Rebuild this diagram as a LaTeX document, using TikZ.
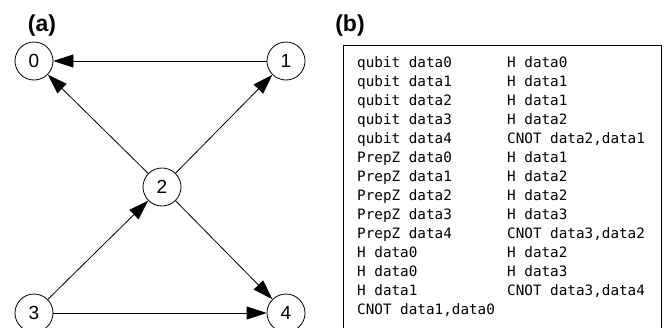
\documentclass[tikz,border=0pt]{standalone}
\usepackage{fontspec}
\setmainfont{Liberation Sans}
\newfontfamily\listfont{DejaVu Sans Mono}
\usetikzlibrary{arrows.meta}

\begin{document}
\begin{tikzpicture}[x=1pt, y=-1pt,
    qnode/.style={circle, draw, line width=0.8pt, inner sep=0pt, minimum size=38pt, font=\fontsize{19}{19}\selectfont},
    qedge/.style={-{Triangle[length=20pt, width=13pt]}, line width=0.8pt},
    panel/.style={inner sep=0pt, font=\bfseries\fontsize{23}{23}\selectfont},
    listing/.style={anchor=north west, inner sep=0pt, align=left, font=\listfont\fontsize{14.3}{19}\selectfont}]
      \useasboundingbox (0, 0) rectangle (664, 327);
      \clip (0, 0) rectangle (664, 327);

      \node[panel] (a) at (42, 26) {(a)};
      \node[panel] (b) at (350, 26) {(b)};

      \node[qnode] (0) at (34, 61) {0};
      \node[qnode] (1) at (286, 61) {1};
      \node[qnode] (2) at (162, 187) {2};
      \node[qnode] (3) at (34, 313) {3};
      \node[qnode] (4) at (286, 313) {4};

      \draw[qedge] (1) -- (0);
      \draw[qedge] (2) -- (0);
      \draw[qedge] (2) -- (1);
      \draw[qedge] (3) -- (2);
      \draw[qedge] (2) -- (4);
      \draw[qedge] (3) -- (4);

      % program listing
      \draw[line width=0.9pt] (343, 340) |- (661, 45) -- (661, 340);
      \node[listing] (left) at (357, 56) {qubit data0\\qubit data1\\qubit data2\\qubit data3\\qubit data4\\PrepZ data0\\PrepZ data1\\PrepZ data2\\PrepZ data3\\PrepZ data4\\H data0\\H data0\\H data1\\CNOT data1,data0};
      \node[listing] (right) at (507, 56) {H data0\\H data1\\H data1\\H data2\\CNOT data2,data1\\H data1\\H data2\\H data2\\H data3\\CNOT data3,data2\\H data2\\H data3\\CNOT data3,data4};
\end{tikzpicture}
\end{document}
